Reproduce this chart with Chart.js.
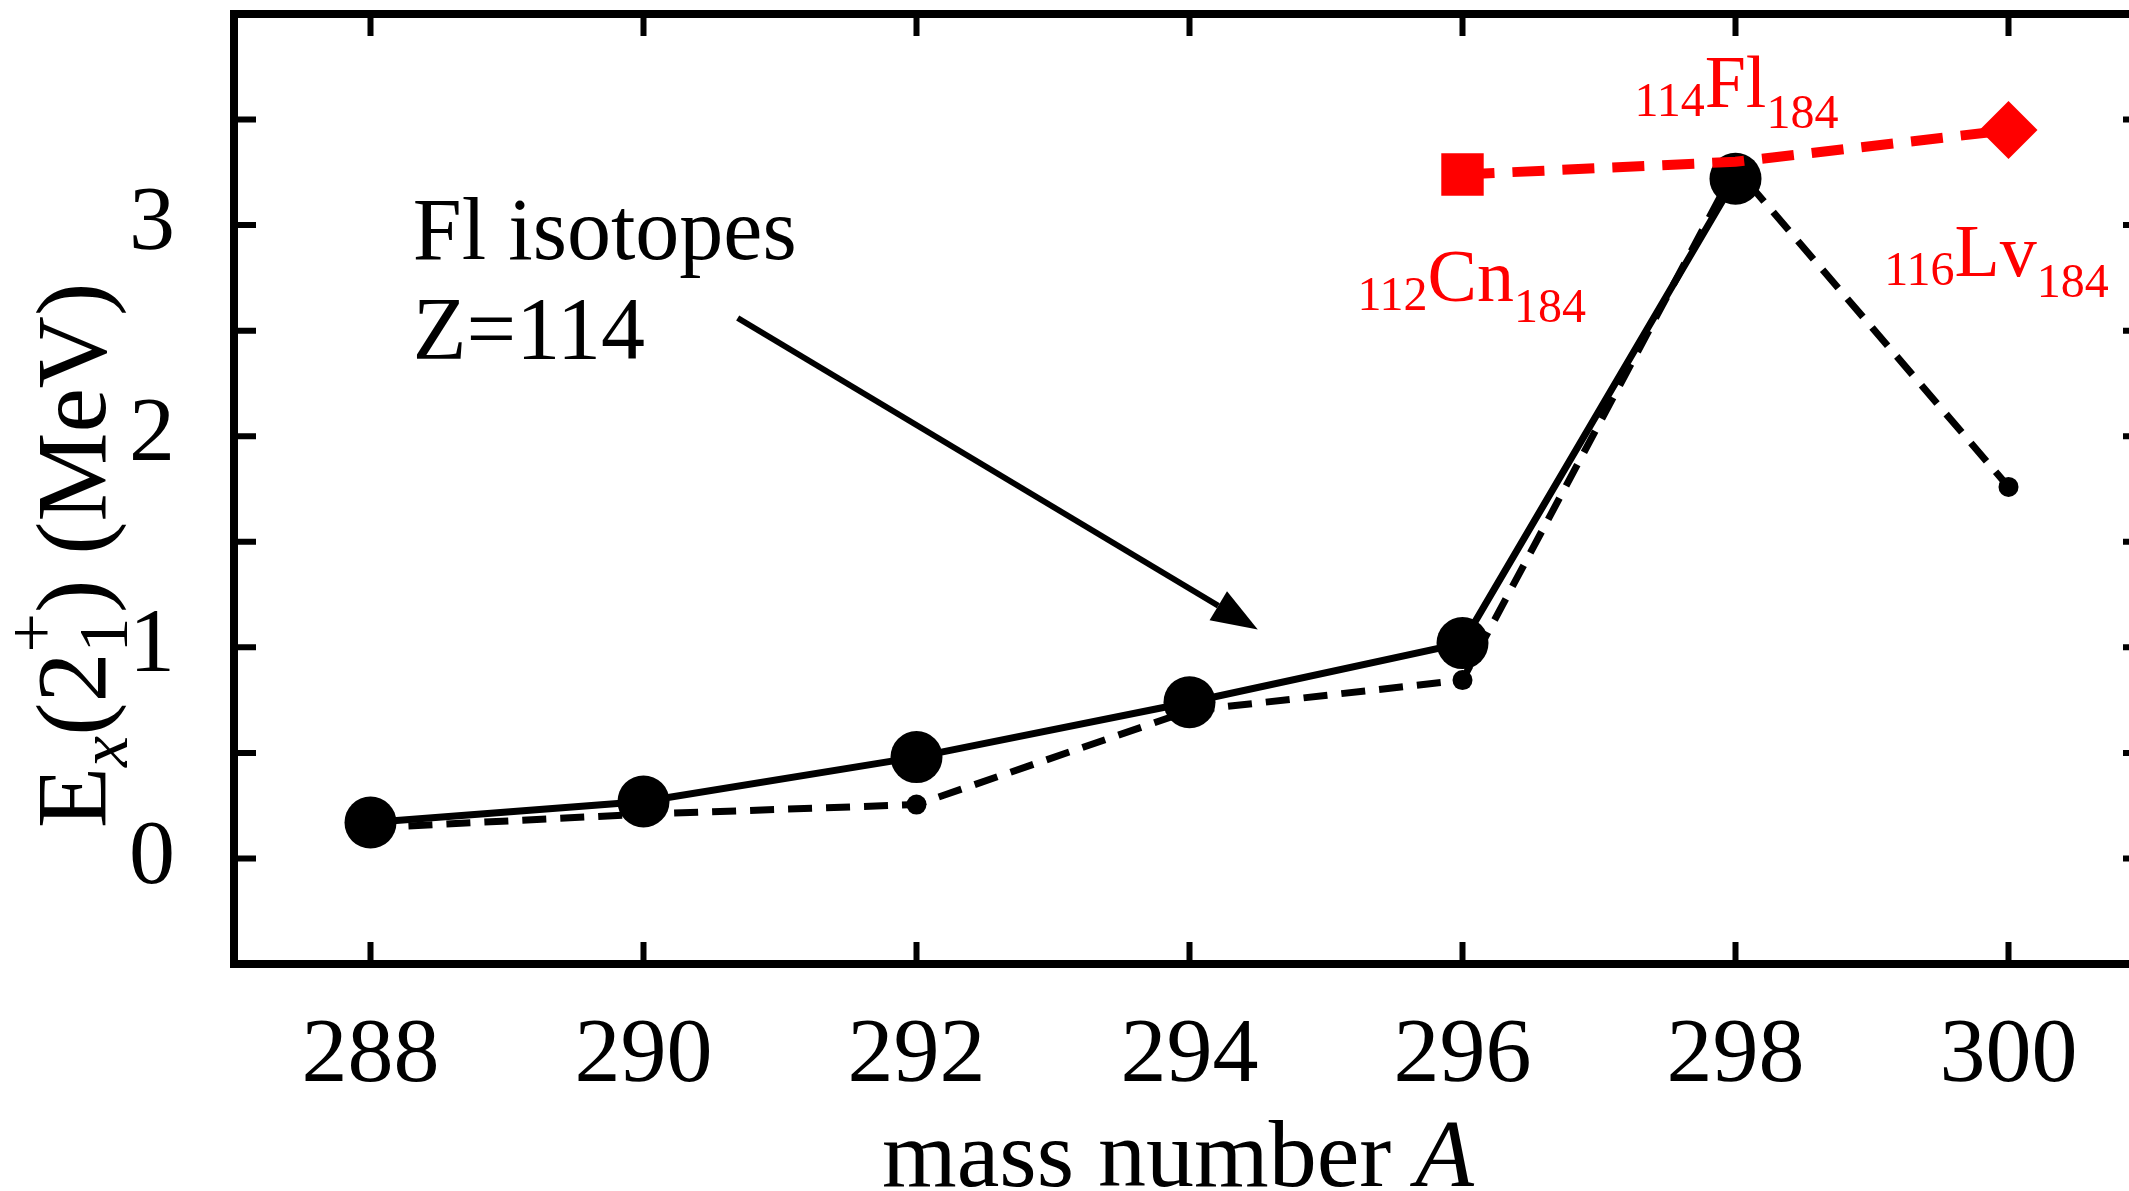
<!DOCTYPE html>
<html>
<head>
<meta charset="utf-8">
<script src="https://cdn.jsdelivr.net/npm/chart.js@4.4.0/dist/chart.umd.min.js"></script>
<style>
  html, body { margin: 0; padding: 0; background: #fff; overflow: hidden; }
  #wrap { position: relative; width: 2145px; height: 1191px; }
</style>
</head>
<body>
<div id="wrap"><canvas id="chart"></canvas></div>
<script>
// mass number A of the Fl isotopes
const massNumbers = [288, 290, 292, 294, 296, 298, 300];
// E_x(2_1^+) in MeV, solid line with big dots
const solidEnergy = [0.17, 0.27, 0.48, 0.74, 1.02, 3.22, null];
// dashed line with small dots
const dashedEnergy = [0.145, 0.21, 0.255, 0.70, 0.845, 3.27, 1.76];
// N=184 isotones (red)
const isotoneMass = [296, 298, 300];
const isotoneEnergy = [3.24, 3.30, 3.45];
const isotoneLabels = [['112', 'Cn', '184'], ['114', 'Fl', '184'], ['116', 'Lv', '184']];
const isotoneLabelAt = [[295.23, 2.64], [297.26, 3.56], [299.09, 2.76]];

// axis ticks
const xTicks = [288, 290, 292, 294, 296, 298, 300];
const yTicks = [0, 1, 2, 3];
const yMinorTicks = [0, 0.5, 1, 1.5, 2, 2.5, 3, 3.5];

// note + arrow (data coords)
const noteLines = ['Fl isotopes', 'Z=114'];
const noteAt = [[288.31, 2.84], [288.31, 2.37]];
const arrowFrom = [290.69, 2.56];
const arrowTo = [294.50, 1.085];

const serif = '"Liberation Serif", "Times New Roman", serif';
const tickLen = 22;

const pts = (xs, ys) => xs.map((v, i) => ({ x: v, y: ys[i] }));

const frameAndNotes = {
  id: 'frameAndNotes',
  afterDatasetsDraw(chart) {
    const { ctx, chartArea: a, scales: { x, y } } = chart;
    ctx.save();

    // frame
    ctx.strokeStyle = '#000';
    ctx.lineWidth = 8;
    ctx.strokeRect(a.left, a.top, a.right - a.left, a.bottom - a.top);

    // inward ticks
    ctx.lineWidth = 6;
    ctx.beginPath();
    xTicks.forEach(v => {
      const px = x.getPixelForValue(v);
      ctx.moveTo(px, a.bottom); ctx.lineTo(px, a.bottom - tickLen);
      ctx.moveTo(px, a.top); ctx.lineTo(px, a.top + tickLen);
    });
    yMinorTicks.forEach(v => {
      const py = y.getPixelForValue(v);
      ctx.moveTo(a.left, py); ctx.lineTo(a.left + tickLen, py);
      ctx.moveTo(a.right, py); ctx.lineTo(a.right - tickLen, py);
    });
    ctx.stroke();

    // note text
    ctx.fillStyle = '#000';
    ctx.textBaseline = 'alphabetic';
    ctx.textAlign = 'left';
    ctx.font = '88px ' + serif;
    noteLines.forEach((t, i) => {
      ctx.fillText(t, x.getPixelForValue(noteAt[i][0]), y.getPixelForValue(noteAt[i][1]));
    });

    // arrow
    const x0 = x.getPixelForValue(arrowFrom[0]), y0 = y.getPixelForValue(arrowFrom[1]);
    const x1 = x.getPixelForValue(arrowTo[0]), y1 = y.getPixelForValue(arrowTo[1]);
    const ang = Math.atan2(y1 - y0, x1 - x0);
    const headLen = 46, headHalf = 17;
    const bx = x1 - headLen * Math.cos(ang), by = y1 - headLen * Math.sin(ang);
    ctx.lineWidth = 6;
    ctx.beginPath();
    ctx.moveTo(x0, y0);
    ctx.lineTo(bx, by);
    ctx.stroke();
    ctx.beginPath();
    ctx.moveTo(x1, y1);
    ctx.lineTo(bx + headHalf * Math.sin(ang), by - headHalf * Math.cos(ang));
    ctx.lineTo(bx - headHalf * Math.sin(ang), by + headHalf * Math.cos(ang));
    ctx.closePath();
    ctx.fill();

    // red nuclide labels
    ctx.fillStyle = '#ff0000';
    isotoneLabels.forEach((parts, i) => {
      let px = x.getPixelForValue(isotoneLabelAt[i][0]);
      const py = y.getPixelForValue(isotoneLabelAt[i][1]);
      ctx.font = '48px ' + serif;
      ctx.fillText(parts[0], px, py + 9);
      px += ctx.measureText(parts[0]).width;
      ctx.font = '74px ' + serif;
      ctx.fillText(parts[1], px, py);
      px += ctx.measureText(parts[1]).width;
      ctx.font = '48px ' + serif;
      ctx.fillText(parts[2], px, py + 21);
    });

    ctx.restore();
  },
  afterDraw(chart) {
    const { ctx } = chart;
    ctx.save();
    ctx.fillStyle = '#000';
    ctx.textBaseline = 'alphabetic';

    // x title
    const F = 96;
    ctx.font = F + 'px ' + serif;
    const t1 = 'mass number ';
    const w1 = ctx.measureText(t1).width;
    ctx.font = 'italic ' + F + 'px ' + serif;
    const w2 = ctx.measureText('A').width;
    const sx = 1178 - (w1 + w2) / 2;
    ctx.font = F + 'px ' + serif;
    ctx.fillText(t1, sx, 1186);
    ctx.font = 'italic ' + F + 'px ' + serif;
    ctx.fillText('A', sx + w1, 1186);

    // y title, rotated: E_x(2_1^+) (MeV)
    const G = 100;
    ctx.translate(105, 828);
    ctx.rotate(-Math.PI / 2);
    let u = 0;
    const put = (t, style, size, dv) => {
      ctx.font = style + size + 'px ' + serif;
      ctx.fillText(t, u, dv);
      return ctx.measureText(t).width;
    };
    u += put('E', '', G, 0);
    u += put('x', 'italic ', G * 0.7, G * 0.22);
    u += put('(', '', G, 0);
    u += put('2', '', G, 0);
    const ws = put('1', '', G * 0.7, G * 0.22);
    const wp = put('+', '', G * 0.7, -G * 0.5);
    u += Math.max(ws, wp);
    u += put(')', '', G, 0);
    put(' (MeV)', '', G, 0);

    ctx.restore();
  }
};

new Chart(document.getElementById('chart'), {
  type: 'line',
  data: {
    datasets: [
      {
        data: pts(isotoneMass, isotoneEnergy),
        borderColor: '#ff0000',
        backgroundColor: '#ff0000',
        borderWidth: 10,
        borderDash: [32, 18],
        pointStyle: ['rect', 'circle', 'rectRot'],
        pointRadius: [30, 0, 29],
        pointBorderWidth: 0
      },
      {
        data: pts(massNumbers, solidEnergy),
        borderColor: '#000',
        backgroundColor: '#000',
        borderWidth: 7,
        pointStyle: 'circle',
        pointRadius: 26,
        pointBorderWidth: 0
      },
      {
        data: pts(massNumbers, dashedEnergy),
        borderColor: '#000',
        backgroundColor: '#000',
        borderWidth: 7,
        borderDash: [24, 14],
        pointStyle: 'circle',
        pointRadius: 10,
        pointBorderWidth: 0
      }
    ]
  },
  options: {
    responsive: true,
    maintainAspectRatio: false,
    animation: false,
    layout: { autoPadding: false, padding: { top: 14, right: 0, left: 0, bottom: 0 } },
    plugins: { legend: { display: false }, tooltip: { enabled: false } },
    scales: {
      x: {
        type: 'linear',
        min: 287,
        max: 301,
        afterBuildTicks: s => { s.ticks = xTicks.map(v => ({ value: v })); },
        afterFit: s => { s.height = 227; s.paddingLeft = 0; s.paddingRight = 0; },
        grid: { display: false },
        border: { display: false },
        ticks: {
          color: '#000',
          font: { family: serif, size: 92 },
          padding: 30,
          maxRotation: 0,
          autoSkip: false,
          callback: v => String(v)
        }
      },
      y: {
        min: -0.5,
        max: 4,
        afterBuildTicks: s => { s.ticks = yTicks.map(v => ({ value: v })); },
        afterFit: s => { s.width = 234; s.paddingTop = 0; s.paddingBottom = 0; },
        grid: { display: false },
        border: { display: false },
        ticks: {
          color: '#000',
          font: { family: serif, size: 92 },
          padding: 51,
          callback: v => String(v)
        }
      }
    }
  },
  plugins: [frameAndNotes]
});
</script>
</body>
</html>
